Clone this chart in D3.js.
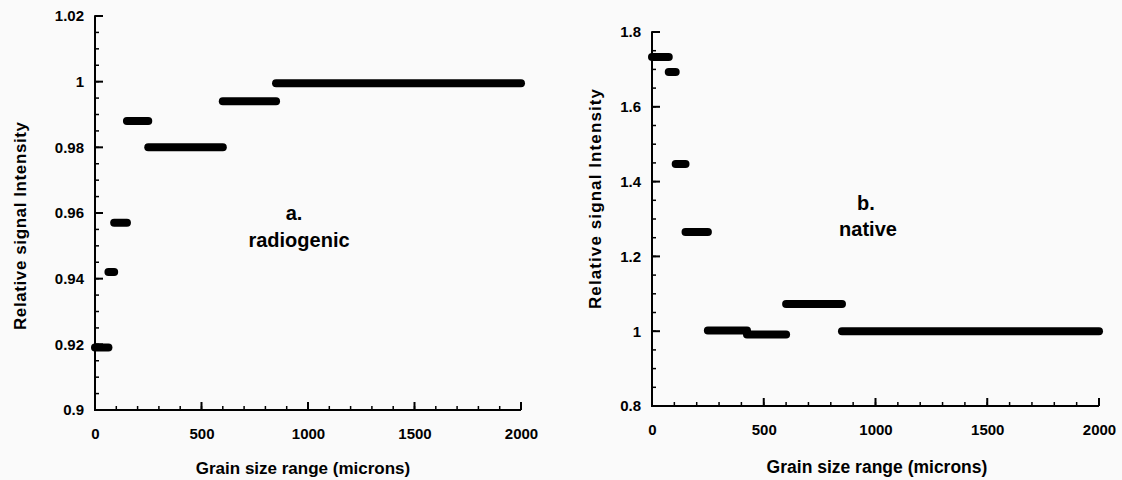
<!DOCTYPE html>
<html>
<head>
<meta charset="utf-8">
<script src="https://cdn.jsdelivr.net/npm/d3@7"></script>
<style>
  body { margin: 0; background: #fafafa; }
  svg { display: block; font-family: "Liberation Sans", Arial, Helvetica, sans-serif; }
  .tick text { font-size: 15px; font-weight: bold; fill: #000; }
  .title { font-weight: bold; fill: #000; }
</style>
</head>
<body>
<svg id="chart" width="1122" height="480"></svg>
<script>
// grain size bins (microns) and relative signal
var radioLow = [0, 63, 90, 150, 250, 600, 850];
var radioHigh = [63, 90, 150, 250, 600, 850, 2000];
var radioSignal = [0.919, 0.942, 0.957, 0.988, 0.980, 0.994, 0.9995];

var nativeLow = [0, 75, 106, 150, 250, 425, 600, 850];
var nativeHigh = [75, 106, 150, 250, 425, 600, 850, 2000];
var nativeSignal = [1.733, 1.693, 1.447, 1.265, 1.002, 0.991, 1.073, 1.0];

var xTicks = [0, 500, 1000, 1500, 2000];
var radioYTicks = [0.9, 0.92, 0.94, 0.96, 0.98, 1, 1.02];
var nativeYTicks = [0.8, 1, 1.2, 1.4, 1.6, 1.8];

var xTitle = 'Grain size range (microns)';
var yTitle = 'Relative signal Intensity';

var svg = d3.select('#chart');

svg.append('rect')
    .attr('width', 1122)
    .attr('height', 480)
    .attr('fill', '#fafafa');

function drawPanel(opt) {
    var x = d3.scaleLinear().domain([0, 2000]).range(opt.xRange);
    var y = d3.scaleLinear().domain(opt.yDomain).range(opt.yRange);
    var x0 = opt.xRange[0], y0 = opt.yRange[0];

    var g = svg.append('g');

    // labels from d3 axes, ticks drawn by hand below
    g.append('g')
        .attr('transform', `translate(0,${y0})`)
        .call(d3.axisBottom(x).tickValues(xTicks).tickSize(0).tickPadding(18)
            .tickFormat(d3.format('d')))
        .call(s => s.select('.domain').remove());

    g.append('g')
        .attr('transform', `translate(${x0},0)`)
        .call(d3.axisLeft(y).tickValues(opt.yTicks).tickSize(0).tickPadding(11)
            .tickFormat(d => String(+d.toFixed(2))))
        .call(s => s.select('.domain').remove());

    var ticks = g.append('g')
        .attr('stroke', '#000');

    ticks.selectAll('line.xminor')
        .data(x.ticks(20))
        .enter()
        .append('line')
        .attr('x1', d => x(d)).attr('x2', d => x(d))
        .attr('y1', y0).attr('y2', y0 - 4)
        .attr('stroke-width', 1.5);

    ticks.selectAll('line.yminor')
        .data(y.ticks(opt.minorY))
        .enter()
        .append('line')
        .attr('x1', x0 - 1).attr('x2', x0 + 4)
        .attr('y1', d => y(d)).attr('y2', d => y(d))
        .attr('stroke-width', 1.5);

    ticks.selectAll('line.xmajor')
        .data(xTicks)
        .enter()
        .append('line')
        .attr('x1', d => x(d)).attr('x2', d => x(d))
        .attr('y1', y0).attr('y2', y0 - 8)
        .attr('stroke-width', 2);

    ticks.selectAll('line.ymajor')
        .data(opt.yTicks)
        .enter()
        .append('line')
        .attr('x1', x0).attr('x2', x0 + 8)
        .attr('y1', d => y(d)).attr('y2', d => y(d))
        .attr('stroke-width', 2);

    // axis lines
    g.append('path')
        .attr('d', `M${x0},${opt.yRange[1]}V${y0}H${opt.xRange[1]}`)
        .attr('fill', 'none')
        .attr('stroke', '#000')
        .attr('stroke-width', 2);

    // one thick bar per grain size bin
    g.selectAll('line.bar')
        .data(d3.range(opt.low.length))
        .enter()
        .append('line')
        .attr('class', 'bar')
        .attr('x1', i => x(opt.low[i]))
        .attr('x2', i => x(opt.high[i]))
        .attr('y1', i => y(opt.signal[i]))
        .attr('y2', i => y(opt.signal[i]))
        .attr('stroke', '#000')
        .attr('stroke-width', 8)
        .attr('stroke-linecap', 'round');

    g.append('text')
        .attr('class', 'title')
        .attr('x', opt.xTitle[0])
        .attr('y', opt.xTitle[1])
        .attr('text-anchor', 'middle')
        .style('font-size', opt.xTitle[2] + 'px')
        .text(xTitle);

    g.append('text')
        .attr('class', 'title')
        .attr('transform', `translate(${opt.yTitle[0]},${opt.yTitle[1]}) rotate(-90)`)
        .attr('text-anchor', 'middle')
        .attr('dominant-baseline', 'central')
        .attr('textLength', opt.yTitle[2])
        .attr('lengthAdjust', 'spacing')
        .style('font-size', '17px')
        .text(yTitle);

    g.append('text')
        .attr('class', 'title')
        .attr('x', opt.label[0])
        .attr('y', opt.label[1])
        .attr('text-anchor', 'middle')
        .style('font-size', '20px')
        .text(opt.label[2]);

    g.append('text')
        .attr('class', 'title')
        .attr('x', opt.label[3])
        .attr('y', opt.label[4])
        .attr('text-anchor', 'middle')
        .style('font-size', '20px')
        .text(opt.label[5]);
}

drawPanel({
    xRange: [95, 521],
    yDomain: [0.9, 1.02],
    yRange: [410, 16],
    yTicks: radioYTicks,
    minorY: 24,
    low: radioLow,
    high: radioHigh,
    signal: radioSignal,
    xTitle: [303, 474, 17],
    yTitle: [20, 226, 208],
    label: [294, 220, 'a.', 299, 247, 'radiogenic']
});

drawPanel({
    xRange: [652, 1099],
    yDomain: [0.8, 1.8],
    yRange: [406, 32],
    yTicks: nativeYTicks,
    minorY: 20,
    low: nativeLow,
    high: nativeHigh,
    signal: nativeSignal,
    xTitle: [877, 473, 17.5],
    yTitle: [595, 199, 220],
    label: [866, 210, 'b.', 868, 236, 'native']
});
</script>
</body>
</html>
